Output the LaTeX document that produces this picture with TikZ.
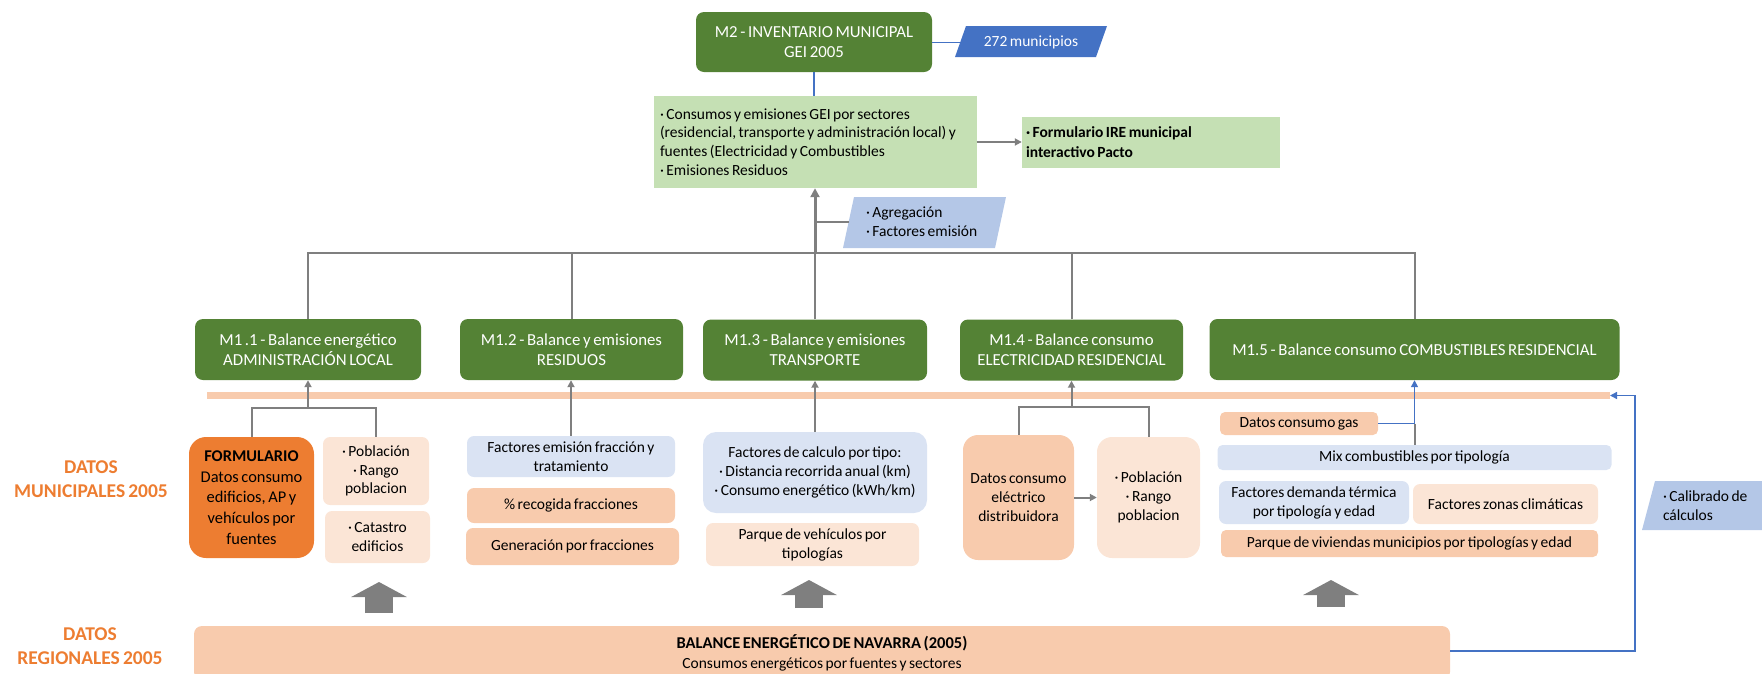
\documentclass[tikz,border=0pt]{standalone}
\usepackage{fontspec}
\setmainfont{Carlito}[WordSpace={0.7,0,0}]
\usetikzlibrary{arrows.meta}
\definecolor{mgreen}{HTML}{548235}
\definecolor{lgreen}{HTML}{C5E0B4}
\definecolor{mblue}{HTML}{4472C4}
\definecolor{pblue}{HTML}{B4C7E7}
\definecolor{lblue}{HTML}{DAE3F3}
\definecolor{morange}{HTML}{ED7D31}
\definecolor{lorange}{HTML}{F8CBAD}
\definecolor{porange}{HTML}{FBE5D6}
\definecolor{lgrey}{HTML}{7F7F7F}
\begin{document}
\begin{tikzpicture}[x=1pt, y=-1pt,
  mbox/.style={fill=mgreen, text=white, rounded corners=8pt, inner sep=0pt, align=center, font=\fontsize{16.8}{20}\selectfont},
  dbox/.style={rounded corners=7pt, inner sep=0pt, align=center, font=\fontsize{15.5}{19}\selectfont},
  txt/.style={inner sep=0pt, align=flush left, font=\fontsize{15.5}{19}\selectfont},
  gline/.style={draw=lgrey, line width=2pt},
  garrow/.style={gline, -{Triangle[length=7pt, width=7pt]}},
  bline/.style={draw=mblue, line width=1.5pt},
  barrow/.style={bline, -{Triangle[length=7pt, width=7pt]}},
  bigarrow/.style={draw=lgrey, line width=28pt, -{Triangle[length=15pt, width=55pt]}},
  datos/.style={text=morange, align=center, font=\bfseries\fontsize{19.5}{24}\selectfont}]
  \useasboundingbox (0,0) rectangle (1762,673);
  \clip (0,0) rectangle (1762,673);

  \node[mbox, minimum width=236pt, minimum height=60pt] (m2) at (814,42) {M2 - INVENTARIO MUNICIPAL\\GEI 2005};
  \fill[mblue] (955,57) -- (966,26) -- (1107,26) -- (1096,57) -- cycle;
  \node[txt, text=white, minimum width=140pt] (muni) at (1031,42) {272 municipios};
  \node[txt, fill=lgreen, minimum width=323pt, minimum height=92pt, text width=310pt, font=\fontsize{15.5}{18.7}\selectfont] (res) at (815,142) {· Consumos y emisiones GEI por sectores\\(residencial, transporte y administración local) y\\fuentes (Electricidad y Combustibles\\· Emisiones Residuos};
  \node[txt, fill=lgreen, minimum width=258pt, minimum height=51pt, text width=250pt, font=\bfseries\fontsize{15.5}{20}\selectfont] (form) at (1151,142) {· Formulario IRE municipal\\interactivo Pacto};
  \fill[pblue] (843,248) -- (854,197) -- (1006,197) -- (995,248) -- cycle;
  \node[txt, text width=120pt] (agr) at (926,222) {· Agregación\\· Factores emisión};
  \coordinate (agrw) at (849,222);
  \coordinate (bus) at (815,253);

  \node[mbox, minimum width=226pt, minimum height=61pt] (m11) at (308,349.5) {M1 .1 - Balance energético\\ADMINISTRACIÓN LOCAL};
  \node[mbox, minimum width=223pt, minimum height=61pt] (m12) at (571.5,349.5) {M1.2 - Balance y emisiones\\RESIDUOS};
  \node[mbox, minimum width=224pt, minimum height=61pt] (m13) at (815,350) {M1.3 - Balance y emisiones\\TRANSPORTE};
  \node[mbox, minimum width=223pt, minimum height=61pt] (m14) at (1071.5,350) {M1.4 - Balance consumo\\ELECTRICIDAD RESIDENCIAL};
  \node[mbox, minimum width=410pt, minimum height=61pt] (m15) at (1414.5,349.5) {M1.5 - Balance consumo COMBUSTIBLES RESIDENCIAL};

  \draw[bline, line width=1pt] (m2.east) -- (muni.west);
  \draw[bline] (m2.south) -- (m2.south |- res.north);
  \draw[garrow] (res.east) -- (form.west);
  \draw[garrow, line width=3pt, -{Triangle[length=9pt, width=9pt]}] (bus) -- (res.south);
  \draw[gline] (bus |- agrw) -- (agrw);
  \draw[gline] (m11.north) -- (m11.north |- bus) -- (m15.north |- bus) -- (m15.north);
  \draw[gline] (m12.north) -- (m12.north |- bus);
  \draw[gline] (m13.north) -- (bus);
  \draw[gline] (m14.north) -- (m14.north |- bus);

  \fill[lorange] (207,392) rectangle (1610,399);
  \coordinate (bandend) at (1610,395.5);

  \node[datos] (dmun) at (91,479) {DATOS\\MUNICIPALES 2005};
  \node[dbox, fill=morange, rounded corners=17pt, minimum width=125pt, minimum height=121pt, font=\fontsize{16.4}{20.6}\selectfont] (formu) at (251.5,497.5) {\textbf{FORMULARIO}\\Datos consumo\\edificios, AP y\\vehículos por\\fuentes};
  \node[dbox, fill=porange, minimum width=106pt, minimum height=68pt, font=\fontsize{15.5}{18.5}\selectfont] (pob1) at (376,471) {· Población\\· Rango\\poblacion};
  \node[dbox, fill=porange, minimum width=105pt, minimum height=52pt] (cat) at (377.5,537) {· Catastro\\edificios};
  \coordinate (j1) at (308,408);
  \draw[gline] (formu.north) |- (j1) -| (pob1.north);
  \draw[garrow] (j1) -- (m11.south);

  \node[dbox, fill=lblue, minimum width=208pt, minimum height=41pt] (fac12) at (571,456.5) {Factores emisión fracción y\\tratamiento};
  \node[dbox, fill=lorange, minimum width=208pt, minimum height=35pt] (rec) at (571,505.5) {\% recogida fracciones};
  \node[dbox, fill=lorange, minimum width=213pt, minimum height=37pt] (gen) at (572.5,546.5) {Generación por fracciones};
  \draw[garrow] (fac12.north) -- (fac12.north |- m12.south);

  \node[dbox, fill=lblue, rounded corners=13pt, minimum width=224pt, minimum height=81pt] (fac13) at (815,472.5) {Factores de calculo por tipo:\\· Distancia recorrida anual (km)\\· Consumo energético (kWh/km)};
  \node[dbox, fill=porange, minimum width=213pt, minimum height=43pt] (parq) at (812.5,544.5) {Parque de vehículos por\\tipologías};
  \draw[garrow] (fac13.north) -- (m13.south);

  \node[dbox, fill=lorange, rounded corners=15pt, minimum width=111pt, minimum height=125pt] (elec) at (1018.5,497.5) {Datos consumo\\eléctrico\\distribuidora};
  \node[dbox, fill=porange, rounded corners=15pt, minimum width=103pt, minimum height=121pt] (pob2) at (1148.5,497.5) {· Población\\· Rango\\poblacion};
  \coordinate (j4) at (1071.5,407);
  \draw[gline] (elec.north) |- (j4) -| (pob2.north);
  \draw[garrow] (j4) -- (m14.south);
  \draw[garrow] (elec.east) -- (pob2.west);

  \node[dbox, fill=lorange, rounded corners=5pt, minimum width=158pt, minimum height=23pt] (gas) at (1299,423.5) {Datos consumo gas};
  \node[dbox, fill=lblue, rounded corners=5pt, minimum width=394pt, minimum height=25pt] (mix) at (1414.5,457.5) {Mix combustibles por tipología};
  \node[dbox, fill=lblue, minimum width=190pt, minimum height=43pt] (dem) at (1314,502.5) {Factores demanda térmica\\por tipología y edad};
  \node[dbox, fill=porange, minimum width=185pt, minimum height=40pt] (zon) at (1505.5,504) {Factores zonas climáticas};
  \node[dbox, fill=lorange, rounded corners=5pt, minimum width=377pt, minimum height=27pt] (viv) at (1409.5,543.5) {Parque de viviendas municipios por tipologías y edad};
  \coordinate (j5) at (mix.north |- gas.east);
  \draw[gline] (mix.north) -- (j5);
  \draw[bline] (gas.east) -- (j5);
  \draw[barrow] (j5) -- (m15.south);

  \fill[pblue] (1642,530) -- (1655,481) -- (1762,481) -- (1762,530) -- cycle;
  \node[txt, text width=95pt] (cal) at (1710.5,506) {· Calibrado de\\cálculos};

  \node[datos] (dreg) at (90,646) {DATOS\\REGIONALES 2005};
  \node[dbox, fill=lorange, rounded corners=8pt, minimum width=1256pt, minimum height=54pt, font=\fontsize{15.5}{20}\selectfont] (bal) at (822,653) {{\bfseries\fontsize{16.5}{20}\selectfont BALANCE ENERGÉTICO DE NAVARRA (2005)}\\Consumos energéticos por fuentes y sectores};
  \coordinate (cb) at (1635,651);
  \draw[barrow] (bal.east |- cb) -- (cb) -- (cb |- bandend) -- (bandend);

  \coordinate (a1) at (379,613);
  \coordinate (a2) at (809,608);
  \coordinate (a3) at (1331,607);
  \draw[bigarrow] (a1) -- ++(0,-31);
  \draw[bigarrow] (a2) -- ++(0,-28);
  \draw[bigarrow] (a3) -- ++(0,-27);
\end{tikzpicture}
\end{document}
